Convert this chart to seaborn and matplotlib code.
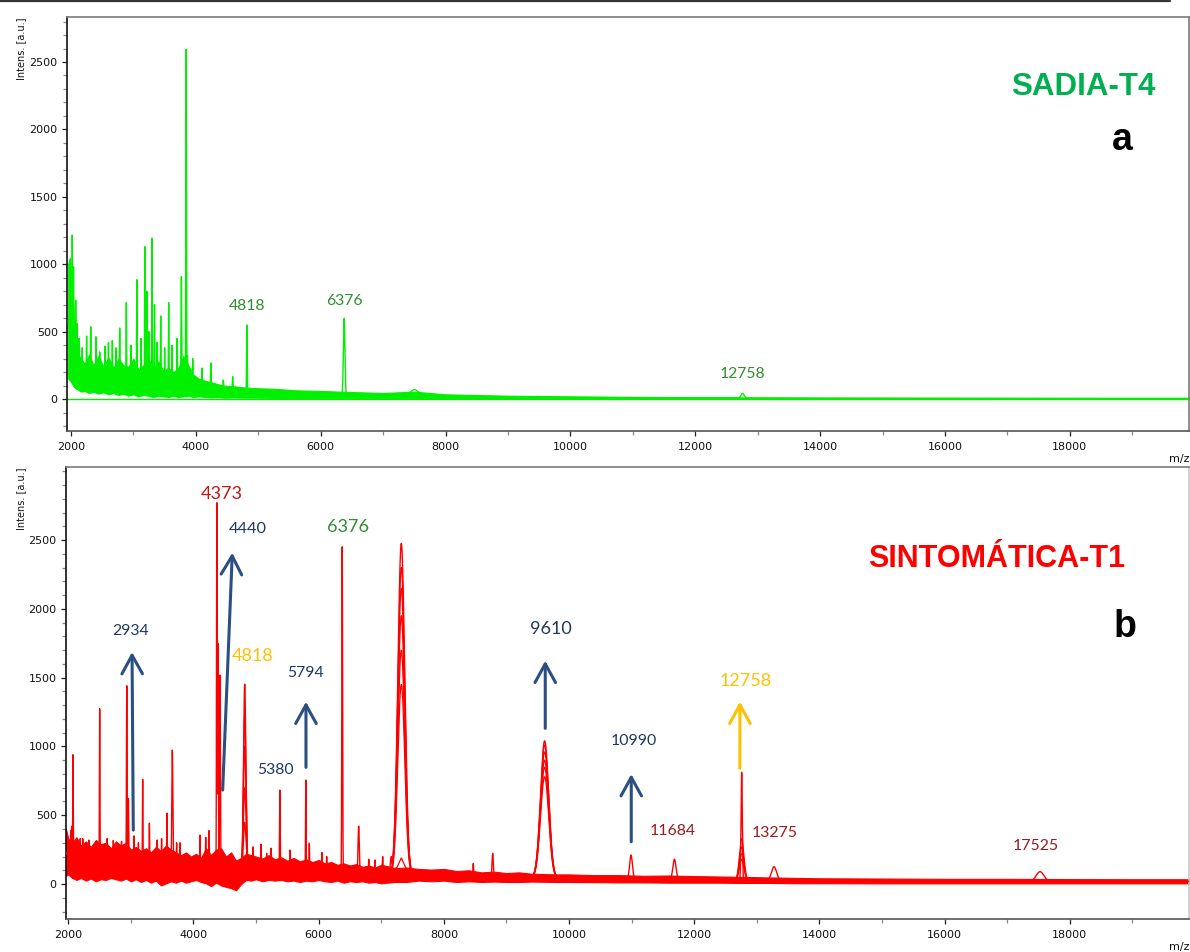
import numpy as np
import pandas as pd
import matplotlib
matplotlib.use("Agg")
import matplotlib.pyplot as plt
from matplotlib.lines import Line2D
from matplotlib.ticker import MultipleLocator, FixedLocator
import seaborn as sns

# ---------------- panel a : SADIA-T4 ----------------
# noise band of the overlaid spectra (m/z, lower edge, upper edge)
a_band_mz = [1955, 1980, 2010, 2040, 2070, 2110, 2160, 2220, 2290, 2360, 2440, 2520,
             2600, 2680, 2760, 2840, 2920, 3000, 3080, 3160, 3240, 3320, 3400, 3480,
             3560, 3640, 3720, 3800, 3880, 3960, 4050, 4150, 4250, 4350, 4450, 4600,
             4800, 5000, 5300, 5600, 6000, 6500, 7000, 7500, 8000, 8500, 9000, 10000,
             11000, 12000, 13000, 14000, 16000, 18000, 19910]
a_band_low = [150, 140, 120, 95, 80, 70, 55, 60, 45, 55, 40, 50, 35, 45, 30, 40, 25, 35,
              20, 30, 25, 15, 25, 20, 15, 25, 15, 20, 25, 15, 20, 15, 12, 15, 10, 12, 10,
              10, 8, 8, 6, 6, 5, 5, 4, 4, 3, 3, 2, 2, 2, 2, 1, 1, 1]
a_band_high = [1000, 1050, 900, 650, 450, 330, 300, 260, 330, 250, 320, 240, 310, 230,
               300, 250, 240, 300, 220, 250, 300, 230, 280, 210, 230, 200, 230, 320, 250,
               180, 150, 135, 125, 110, 100, 95, 85, 80, 75, 65, 60, 52, 45, 55, 35, 30,
               25, 20, 16, 14, 12, 10, 9, 8, 8]
# resolved peaks (m/z, apex intensity, peak sigma in m/z)
a_peak_mz = [2020, 2040, 2075, 2095, 2130, 2180, 2250, 2316, 2400, 2460, 2545, 2600,
             2662, 2720, 2780, 2886, 2960, 3055, 3120, 3183, 3215, 3250, 3298, 3338,
             3380, 3437, 3500, 3565, 3620, 3700, 3768, 3845, 3865, 3950, 4100, 4240,
             4440, 4590, 4818, 6376, 7500, 12758]
a_peak_int = [1216, 980, 734, 560, 450, 380, 467, 536, 462, 350, 393, 420, 433, 380,
              527, 715, 400, 885, 450, 1130, 800, 500, 1194, 700, 420, 616, 380, 715,
              400, 450, 908, 2594, 320, 300, 230, 268, 141, 166, 549, 599, 70, 42]
a_peak_sigma = [4, 4, 4, 4, 3, 3, 4, 4, 4, 3, 4, 3, 4, 3, 4, 4, 3, 4, 3, 4, 4, 3, 4, 4,
                3, 4, 3, 4, 3, 3, 5, 5, 5, 4, 4, 5, 5, 5, 5, 12, 60, 25]
a_labels = ["4818", "6376", "12758"]

# ---------------- panel b : SINTOMÁTICA-T1 ----------------
b_band_mz = [1963, 2000, 2060, 2130, 2200, 2280, 2360, 2440, 2520, 2600, 2680, 2760,
             2840, 2920, 3000, 3080, 3160, 3240, 3320, 3400, 3480, 3560, 3640, 3720,
             3800, 3880, 3960, 4040, 4120, 4200, 4280, 4360, 4440, 4520, 4600, 4680,
             4760, 4840, 4920, 5000, 5100, 5200, 5300, 5400, 5500, 5600, 5700, 5800,
             5900, 6000, 6100, 6200, 6300, 6400, 6500, 6600, 6700, 6800, 6900, 7000,
             7100, 7200, 7400, 7600, 7800, 8000, 8200, 8400, 8600, 8800, 9000, 9200,
             9400, 9800, 10000, 10400, 10800, 11200, 11600, 12000, 12400, 12800, 13200,
             13600, 14000, 15000, 16000, 17000, 18000, 19000, 19910]
b_band_low = [60, 70, 45, 30, 45, 25, 40, 20, 35, 30, 45, 35, 25, 40, 20, 35, 15, 30,
              10, 25, -10, 5, 20, 10, 25, 10, 20, 30, 15, 5, -15, 10, -10, -20, -30,
              -45, 0, 30, 25, 35, 20, 30, 25, 30, 20, 25, 15, 25, 20, 30, 20, 15, 25,
              10, 20, 15, 20, 10, 15, 5, 10, 15, 15, 25, 20, 25, 15, 20, 15, 18, 15,
              15, 18, 15, 15, 14, 12, 12, 10, 10, 10, 8, 8, 6, 6, 5, 5, 5, 5, 5, 5]
b_band_high = [400, 330, 300, 340, 280, 310, 270, 320, 290, 300, 260, 310, 280, 300,
               250, 270, 240, 260, 230, 270, 240, 280, 250, 230, 210, 230, 200, 220,
               190, 260, 210, 250, 260, 200, 230, 170, 190, 220, 210, 200, 185, 210,
               180, 195, 170, 190, 165, 180, 160, 175, 150, 160, 140, 150, 135, 145,
               125, 135, 120, 140, 130, 115, 120, 110, 105, 110, 95, 100, 85, 90, 80,
               85, 75, 70, 70, 65, 65, 60, 62, 58, 55, 52, 48, 45, 42, 40, 38, 38, 36,
               35, 35]
b_peak_mz = [2040, 2054, 2075, 2190, 2231, 2330, 2501, 2620, 2719, 2850, 2934, 2960,
             3050, 3120, 3188, 3295, 3412, 3420, 3490, 3577, 3662, 3730, 3784, 4104,
             4195, 4248, 4373, 4391, 4424, 4818, 4952, 5080, 5169, 5240, 5380, 5541,
             5794, 5850, 6050, 6128, 6376, 6639, 6800, 6900, 7022, 7160, 7320, 8470,
             8780, 9610, 10990, 11684, 12758, 13275, 17525]
b_peak_int = [390, 420, 940, 330, 330, 320, 1274, 330, 317, 310, 1441, 620, 350, 300,
              761, 443, 297, 320, 330, 515, 974, 300, 300, 356, 340, 388, 2771, 1749,
              1519, 1453, 270, 290, 222, 260, 683, 247, 756, 297, 230, 200, 2451, 421,
              180, 175, 200, 200, 2476, 150, 223, 1041, 211, 180, 812, 126, 90]
b_peak_sigma = [4, 3, 4, 4, 3, 4, 4, 4, 3, 4, 5, 5, 4, 4, 4, 4, 3, 4, 4, 4, 8, 4, 3, 4,
                4, 4, 5, 6, 6, 18, 3, 4, 3, 4, 5, 3, 4, 4, 4, 3, 6, 10, 4, 4, 6, 15, 55,
                5, 10, 65, 22, 25, 10, 40, 60]
# replicate spectra over the broad peaks
b_rep_mz = [4818, 7320, 9610, 12758]
b_rep_int = [[1250, 1000, 700, 450],
             [2300, 2150, 1950, 1700, 1450],
             [1010, 960, 900, 850, 780],
             [330, 270, 220, 180]]
b_rep_sigma = [20, 55, 65, 35]
# one replicate lacking the 7320 / 9610 peaks
b_flat_mz = [6900, 7100, 7250, 7320, 7400, 7600, 8000, 9000, 9500, 9620, 9750, 10200]
b_flat_int = [100, 95, 120, 190, 110, 80, 60, 45, 45, 55, 45, 40]

GREEN = "#00F000"
RED = "#FF0000"
LAB_GREEN = "#2F8F2F"
NAVY = "#1F3864"
ARROW_BLUE = "#2B4F82"
GOLD = "#FFC000"
DARK_RED = "#9A1C1C"
BRIGHT_RED = "#C81414"

# label placement for panel b: (text, m/z, intensity, colour, size)
b_labels = [("4373", 4455, 2838, BRIGHT_RED, 13),
            ("4440", 4874, 2580, NAVY, 11.8),
            ("6376", 6468, 2594, LAB_GREEN, 13),
            ("2934", 3002, 1839, NAVY, 11.3),
            ("4818", 4942, 1661, GOLD, 13),
            ("5794", 5781, 1537, NAVY, 11.3),
            ("5380", 5302, 828, NAVY, 11.3),
            ("9610", 9710, 1850, NAVY, 13),
            ("10990", 11037, 1039, NAVY, 11.4),
            ("12758", 12818, 1479, GOLD, 13),
            ("11684", 11652, 382, DARK_RED, 11.4),
            ("13275", 13289, 374, DARK_RED, 11.4),
            ("17525", 17458, 280, DARK_RED, 11.4)]
# arrows for panel b: (tail m/z, tail int, head m/z, head int, colour)
b_arrows = [(3038, 392, 3018, 1686, ARROW_BLUE),
            (4466, 683, 4620, 2408, ARROW_BLUE),
            (5797, 848, 5797, 1325, ARROW_BLUE),
            (9620, 1132, 9620, 1623, ARROW_BLUE),
            (10994, 307, 10994, 799, ARROW_BLUE),
            (12730, 841, 12730, 1325, GOLD)]
a_label_y = [690, 727, 185]

sns.set_theme(style="ticks")
plt.rcParams["font.family"] = ["DejaVu Sans"]
LABEL_FONT = ["Lato", "DejaVu Sans"]


def build_trace(grid, band_mz, low, high, mz, inten, sigma):
    mid = 0.5 * (np.asarray(low, float) + np.asarray(high, float))
    base = np.interp(grid, band_mz, mid)
    y = base.copy()
    for m, h, s in zip(mz, inten, sigma):
        b0 = np.interp(m, band_mz, mid)
        y = np.maximum(y, base + (h - b0) * np.exp(-0.5 * ((grid - m) / s) ** 2))
    return y, mid


def style_axes(ax, xlim, ylim):
    ax.set_xlim(*xlim)
    ax.set_ylim(*ylim)
    ax.xaxis.set_major_locator(MultipleLocator(2000))
    ax.xaxis.set_minor_locator(MultipleLocator(1000))
    ax.yaxis.set_major_locator(FixedLocator([0, 500, 1000, 1500, 2000, 2500]))
    ax.yaxis.set_minor_locator(MultipleLocator(100))
    ax.tick_params(which="major", direction="out", length=3.5, width=0.9,
                   color="#222222", labelsize=8, labelcolor="#111111", pad=3.2)
    ax.tick_params(which="minor", direction="out", length=2.6, width=0.9,
                   color="#8a8a8a")
    ax.tick_params(axis="x", which="major", pad=4.5)
    ax.set_xlabel("")
    ax.set_ylabel("")
    ax.set_facecolor("white")
    for side in ["top", "right"]:
        ax.spines[side].set_visible(True)
        ax.spines[side].set_color("#7a7a7a")
        ax.spines[side].set_linewidth(1.2)
    ax.spines["left"].set_color("#111111")
    ax.spines["left"].set_linewidth(1.2)
    ax.spines["bottom"].set_color("#555555")
    ax.spines["bottom"].set_linewidth(1.2)


fig = plt.figure(figsize=(11.9, 9.52), dpi=100)
W, H = 1190.0, 952.0
ax_a = fig.add_axes([67 / W, 1 - 431 / H, 1122 / W, (431 - 16.7) / H])
ax_b = fig.add_axes([66 / W, 1 - 919 / H, 1123 / W, (919 - 467) / H])

# ---- panel a ----
grid_a = np.arange(1955, 19910, 1.0)
ya, _ = build_trace(grid_a, a_band_mz, a_band_low, a_band_high,
                    a_peak_mz, a_peak_int, a_peak_sigma)
ax_a.axhline(0, color=GREEN, lw=1.0, zorder=1)
ax_a.fill_between(a_band_mz, a_band_low, a_band_high, color=GREEN, lw=0.8,
                  edgecolor=GREEN, zorder=2)
sns.lineplot(data=pd.DataFrame({"mz": grid_a, "intensity": ya}), x="mz", y="intensity",
             ax=ax_a, color=GREEN, lw=1.0, estimator=None, sort=False, legend=False,
             zorder=3)
style_axes(ax_a, (1936, 19910), (-237, 2836))
for txt, yl in zip(a_labels, a_label_y):
    ax_a.text(float(txt), yl, txt, color=LAB_GREEN, fontsize=11.3, family=LABEL_FONT,
              ha="center", va="center")

# ---- panel b ----
grid_b = np.arange(1963, 19905, 1.0)
yb, b_mid = build_trace(grid_b, b_band_mz, b_band_low, b_band_high,
                        b_peak_mz, b_peak_int, b_peak_sigma)
ax_b.fill_between(b_band_mz, b_band_low, b_band_high, color=RED, lw=0.8,
                  edgecolor=RED, zorder=2)
sns.lineplot(data=pd.DataFrame({"mz": grid_b, "intensity": yb}), x="mz", y="intensity",
             ax=ax_b, color=RED, lw=1.0, estimator=None, sort=False, legend=False,
             zorder=3)
for m, heights, s in zip(b_rep_mz, b_rep_int, b_rep_sigma):
    win = np.arange(m - 6 * s, m + 6 * s, 1.0)
    base = np.interp(win, b_band_mz, b_mid)
    b0 = np.interp(m, b_band_mz, b_mid)
    for h in heights:
        yr = base + (h - b0) * np.exp(-0.5 * ((win - m) / s) ** 2)
        sns.lineplot(x=win, y=yr, ax=ax_b, color=RED, lw=0.9, estimator=None,
                     sort=False, legend=False, zorder=3)
sns.lineplot(x=b_flat_mz, y=b_flat_int, ax=ax_b, color=RED, lw=0.9, estimator=None,
             sort=False, legend=False, zorder=3)
style_axes(ax_b, (1963, 19905), (-254, 3031))
ax_b.spines["right"].set_color("#c8c8c8")

for txt, xl, yl, col, size in b_labels:
    ax_b.text(xl, yl, txt, color=col, fontsize=size, family=LABEL_FONT,
              ha="center", va="center", zorder=6)
for x0, y0, x1, y1, col in b_arrows:
    ax_b.annotate("", xy=(x1, y1), xytext=(x0, y0), zorder=5,
                  arrowprops=dict(arrowstyle="->,head_length=0.67,head_width=0.37",
                                  color=col, lw=2.2, mutation_scale=20,
                                  shrinkA=0, shrinkB=0))

# ---- titles, panel letters and axis captions ----
fig.text(1083.7 / W, 1 - 86.7 / H, "SADIA-T4", color="#00B050", fontsize=22.5,
         fontweight="bold", family=["Liberation Sans", "DejaVu Sans"],
         ha="center", va="center")
fig.text(1122.5 / W, 1 - 140 / H, "a", color="black", fontsize=27, fontweight="bold",
         family=["Liberation Sans", "DejaVu Sans"], ha="center", va="center")
fig.text(997 / W, 1 - 559 / H, "SINTOMÁTICA-T1", color="#FF0000", fontsize=22,
         fontweight="bold", family=["Liberation Sans", "DejaVu Sans"],
         ha="center", va="center")
fig.text(1124.5 / W, 1 - 627 / H, "b", color="black", fontsize=27, fontweight="bold",
         family=["Liberation Sans", "DejaVu Sans"], ha="center", va="center")

for ytop in (18, 468):
    fig.text(21 / W, 1 - ytop / H, "Intens. [a.u.]", rotation=90, fontsize=7,
             color="#111111", ha="center", va="top")
for ytop in (454, 942):
    fig.text(1189 / W, 1 - ytop / H, "m/z", fontsize=8, color="#111111",
             ha="right", va="top")

fig.add_artist(Line2D([0, 1170 / W], [1 - 0.8 / H, 1 - 0.8 / H], color="#333333",
                      lw=1.6, transform=fig.transFigure))

fig.savefig("out.png", dpi=100, facecolor="white")
